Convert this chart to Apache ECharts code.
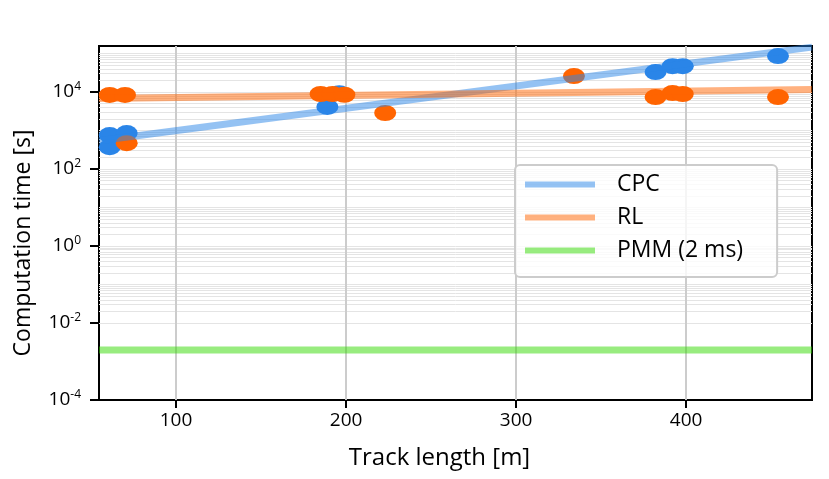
<!DOCTYPE html>
<html><head><meta charset="utf-8">
<script src="https://cdn.jsdelivr.net/npm/echarts@6/dist/echarts.min.js"></script>
<style>html,body{margin:0;padding:0;background:#fff}#c{width:829px;height:479px}</style>
</head><body><div id="c"></div>
<script>
// ---- data ----
const cpcX = [61, 61, 71, 189, 196, 382, 392, 398, 454];
const cpcY = [760, 370, 860, 4100, 9300, 33000, 47000, 47000, 86000];
const rlX = [61, 70, 71, 185, 192, 199, 223, 334, 382, 392, 398, 454];
const rlY = [8400, 8400, 470, 8900, 8900, 8500, 2850, 26000, 7400, 9400, 8900, 7400];
const cpcFitX = [54.7, 474];
const cpcFitY = [540, 147000];
const rlFitX = [54.7, 474];
const rlFitY = [6780, 11600];
const pmmX = [54.7, 474];
const pmmY = [0.002, 0.002];
const seriesNames = ['CPC', 'RL', 'PMM (2 ms)'];
const xTicks = [100, 200, 300, 400];
const yTicks = [1e-4, 1e-2, 1, 1e2, 1e4];
const xMin = 54.7, xMax = 474, yMin = 1e-4, yMax = 1.57e5;

const FONT = 'Open Sans';
const zip = (a, b) => a.map((v, i) => [v, b[i]]);

// horizontal grid lines at every 1..9 x 10^k inside the range
const yGrid = [];
for (let k = -4; k <= 5; k++) {
  for (let m = 1; m <= 9; m++) {
    const v = m * Math.pow(10, k);
    if (v > yMin * 1.0001 && v < yMax * 0.999) yGrid.push(v);
  }
}

const chart = echarts.init(document.getElementById('c'), null, {renderer: 'canvas'});
chart.setOption({
  animation: false,
  backgroundColor: '#fff',
  textStyle: {fontFamily: FONT},
  grid: {left: 99, right: 17, top: 46, bottom: 79, show: true, borderColor: '#000', borderWidth: 2, backgroundColor: 'transparent'},
  legend: {
    data: seriesNames,
    orient: 'vertical',
    left: 515, top: 165,
    padding: [8, 34, 15, 10],
    itemWidth: 70, itemHeight: 6, itemGap: 10,
    icon: 'rect',
    backgroundColor: 'rgba(255,255,255,0.8)',
    borderColor: '#cccccc', borderWidth: 2, borderRadius: 5,
    textStyle: {fontFamily: FONT, fontSize: 23, color: '#000', padding: [0, 0, 0, 17]}
  },
  xAxis: {
    type: 'value', min: xMin, max: xMax, splitNumber: 4,
    axisLine: {lineStyle: {color: '#000', width: 2}},
    axisTick: {customValues: xTicks, length: 8, lineStyle: {color: '#000', width: 2}},
    axisLabel: {customValues: xTicks, fontSize: 19, color: '#000', margin: 11, fontFamily: FONT},
    splitLine: {show: false},
    name: 'Track length [m]', nameLocation: 'middle', nameGap: 46,
    nameTextStyle: {fontSize: 24, color: '#000', fontFamily: FONT, padding: [0, 32, 0, 0]}
  },
  yAxis: {
    type: 'log', logBase: 10, min: yMin, max: yMax,
    axisLine: {show: true, lineStyle: {color: '#000', width: 2}},
    axisTick: {show: true, customValues: yTicks, length: 9, lineStyle: {color: '#000', width: 2}},
    axisLabel: {
      customValues: yTicks, margin: 18, color: '#000',
      formatter: function (v) {
        const e = Math.round(Math.log10(v));
        return '{a|10}{b|' + (e < 0 ? '-' : '') + Math.abs(e) + '}';
      },
      rich: {
        a: {fontSize: 19, color: '#000', fontFamily: FONT},
        b: {fontSize: 12, color: '#000', fontFamily: FONT, padding: [0, 0, 10, 0]}
      }
    },
    splitLine: {show: false},
    name: 'Computation time [s]', nameLocation: 'middle', nameGap: 64, nameRotate: 90,
    nameTextStyle: {fontSize: 23, color: '#000', fontFamily: FONT, padding: [0, 40, 0, 0]}
  },
  series: [
    {
      name: 'grid', type: 'line', data: [], silent: true, z: 1,
      markLine: {
        silent: true, z: 1, symbol: ['none', 'none'], label: {show: false}, animation: false,
        emphasis: {disabled: true},
        data: yGrid.map(v => ({yAxis: v, lineStyle: {color: '#e4e4e4', width: 1, type: 'solid'}}))
          .concat(xTicks.map(v => ({xAxis: v, lineStyle: {color: '#cccccc', width: 2, type: 'solid'}})))
      }
    },
    {
      name: 'CPC points', type: 'scatter', data: zip(cpcX, cpcY), z: 3,
      symbol: 'circle', symbolSize: [22, 16], itemStyle: {color: '#2a85e8', opacity: 1}
    },
    {
      name: 'RL points', type: 'scatter', data: zip(rlX, rlY), z: 3,
      symbol: 'circle', symbolSize: [22, 16], itemStyle: {color: '#ff6400', opacity: 1}
    },
    {
      name: seriesNames[0], type: 'line', data: zip(cpcFitX, cpcFitY), z: 4, showSymbol: false, symbol: 'none',
      itemStyle: {color: 'rgba(42,133,232,0.5)'}, lineStyle: {color: 'rgba(42,133,232,0.5)', width: 7}
    },
    {
      name: seriesNames[1], type: 'line', data: zip(rlFitX, rlFitY), z: 4, showSymbol: false, symbol: 'none',
      itemStyle: {color: 'rgba(255,100,0,0.5)'}, lineStyle: {color: 'rgba(255,100,0,0.5)', width: 7}
    },
    {
      name: seriesNames[2], type: 'line', data: zip(pmmX, pmmY), z: 4, showSymbol: false, symbol: 'none',
      itemStyle: {color: 'rgba(49,217,0,0.5)'}, lineStyle: {color: 'rgba(49,217,0,0.5)', width: 7}
    }
  ]
});
</script></body></html>
